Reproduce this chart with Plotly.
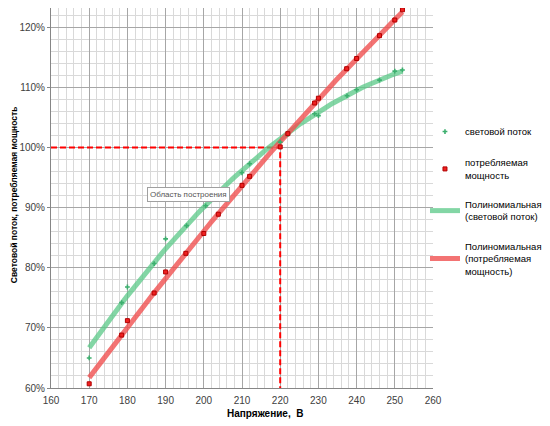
import numpy as np
import plotly.graph_objects as go

# измерения: напряжение, В
volt_flux = [170, 178.5, 180, 187, 190, 195.5, 200.5, 210, 212, 220, 222, 229, 230, 237.5, 240, 246, 250, 252]
flux = [65.0, 74.2, 76.8, 80.7, 84.8, 87.0, 90.3, 95.8, 97.3, 100.9, 102.2, 105.6, 105.3, 108.6, 109.6, 111.2, 112.7, 112.9]

volt_power = [170, 178.5, 180, 187, 190, 195.3, 200, 203.8, 210, 212, 220, 222, 229, 230, 237.4, 240, 246, 250, 252]
power = [60.7, 68.8, 71.2, 75.8, 79.3, 82.4, 85.7, 88.9, 93.7, 95.2, 100.1, 102.3, 107.4, 108.2, 113.1, 114.8, 118.6, 121.2, 122.9]

guide_x = [160, 220, 220]
guide_y = [100, 100, 60]

font = "Liberation Sans, Arial"


def trend(xs, ys):
    # полиномиальный тренд 2-й степени, как в Excel
    c = np.polyfit(xs, ys, 2)
    xx = np.linspace(min(xs), max(xs), 100)
    return xx, np.polyval(c, xx)


fx, fy = trend(volt_flux, flux)
px_, py_ = trend(volt_power, power)

fig = go.Figure()

fig.add_trace(go.Scatter(
    x=guide_x, y=guide_y, mode="lines", showlegend=False,
    line=dict(color="#FF0000", width=2, dash="6px,3px"),
))
fig.add_trace(go.Scatter(
    x=fx, y=fy, mode="lines", name="Полиномиальная<br>(световой поток)",
    legendgroup="c", legendrank=3,
    line=dict(color="rgba(90,200,135,0.75)", width=5),
))
fig.add_trace(go.Scatter(
    x=px_, y=py_, mode="lines", name="Полиномиальная<br>(потребляемая<br>мощность)",
    legendgroup="d", legendrank=4,
    line=dict(color="rgba(240,80,80,0.8)", width=5),
))
fig.add_trace(go.Scatter(
    x=volt_flux, y=flux, mode="markers", name="световой поток",
    legendgroup="a", legendrank=1,
    marker=dict(symbol="cross", size=4, color="#3CAF6E"),
))
fig.add_trace(go.Scatter(
    x=volt_power, y=power, mode="markers", name="потребляемая<br>мощность",
    legendgroup="b", legendrank=2,
    marker=dict(symbol="square", size=4, color="#F02020", line=dict(color="#B00000", width=1)),
))

fig.add_annotation(
    x=196.1, y=92.2, xref="x", yref="y", text="Область построения", showarrow=False,
    font=dict(family=font, size=8, color="#555555"),
    bgcolor="#FFFFFF", bordercolor="#A0A0A0", borderwidth=1, borderpad=2,
)
# подписи осей
fig.add_annotation(
    x=0.56, y=-0.068, xref="paper", yref="paper", text="<b>Напряжение,  В</b>",
    showarrow=False, xanchor="center", yanchor="middle",
    font=dict(family=font, size=10, color="#000000"),
)
fig.add_annotation(
    x=-0.097, y=0.51, xref="paper", yref="paper", text="<b>Световой поток, потребляемая мощность</b>",
    showarrow=False, textangle=-90, xanchor="center", yanchor="middle",
    font=dict(family=font, size=8.5, color="#000000"),
)

fig.update_xaxes(
    range=[160, 260], dtick=10, tick0=160, automargin=False,
    showgrid=True, gridcolor="#A6A6A6", gridwidth=1,
    minor=dict(dtick=2, showgrid=True, gridcolor="#D9D9D9", gridwidth=1),
    showline=True, linecolor="#868686", linewidth=1,
    ticks="", ticklabelstandoff=3,
    tickfont=dict(family=font, size=10, color="#404040"),
    zeroline=False,
)
fig.update_yaxes(
    range=[60, 123.2], dtick=10, tick0=60, ticksuffix="%", automargin=False,
    showgrid=True, gridcolor="#A6A6A6", gridwidth=1,
    minor=dict(dtick=2, showgrid=True, gridcolor="#D9D9D9", gridwidth=1),
    showline=True, linecolor="#868686", linewidth=1,
    ticks="outside", ticklen=3, tickcolor="#868686",
    tickfont=dict(family=font, size=10, color="#404040"),
    zeroline=False,
)

# страница добавляет 8px отступа, поэтому холст чуть меньше окна
fig.update_layout(
    width=542, height=418,
    margin=dict(l=43, r=117, t=0, b=38),
    paper_bgcolor="#FFFFFF", plot_bgcolor="#FFFFFF",
    legend=dict(
        x=0.979, xanchor="left", y=0.713, yanchor="top",
        font=dict(family=font, size=9.5, color="#000000"),
        tracegroupgap=14, itemwidth=30, bgcolor="rgba(0,0,0,0)",
    ),
)

fig.write_html("out.html")
